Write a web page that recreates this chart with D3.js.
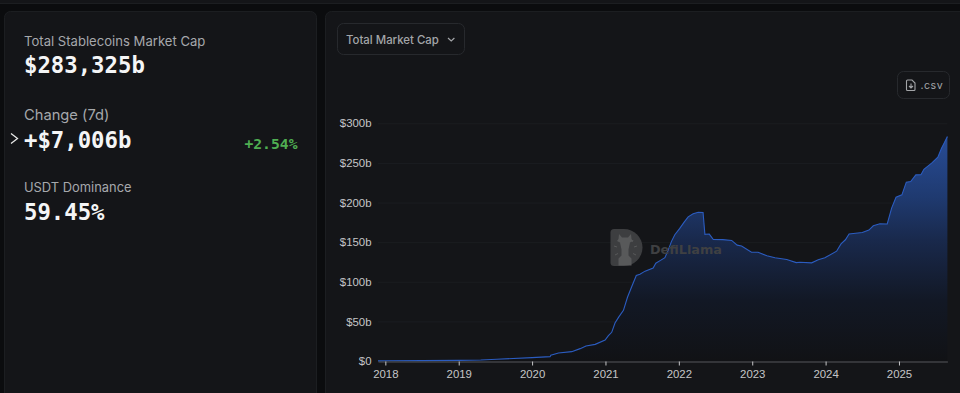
<!DOCTYPE html>
<html>
<head>
<meta charset="utf-8">
<title>Total Stablecoins Market Cap</title>
<script src="https://cdn.jsdelivr.net/npm/d3@7"></script>
<style>
  html, body { margin: 0; padding: 0; background: #0b0c0e; overflow: hidden; }
  svg { display: block; }
  .label { font-family: Inter, sans-serif; fill: #a6a8ac; }
  .big { font-family: "DejaVu Sans Mono", monospace; font-weight: 700; font-size: 22.3px; fill: #f4f5f6; }
  .axis text { font-family: "Liberation Sans", sans-serif; font-size: 11.4px; fill: #c4c5c7; }
</style>
</head>
<body>
<div id="chart"></div>
<script>
// decimal years
const years = [2017.9, 2018, 2018.5, 2019, 2019.3, 2019.52, 2020, 2020.245, 2020.255, 2020.36, 2020.54, 2020.655, 2020.735, 2020.86, 2020.995,
  2021.04, 2021.085, 2021.13, 2021.18, 2021.245, 2021.3, 2021.36, 2021.42, 2021.47, 2021.54, 2021.65, 2021.686, 2021.75, 2021.81, 2021.855, 2021.9, 2021.945,
  2022.01, 2022.07, 2022.127, 2022.195, 2022.264, 2022.33, 2022.355, 2022.415, 2022.47, 2022.6, 2022.72, 2022.795, 2022.855, 2022.99,
  2023.08, 2023.2, 2023.31, 2023.47, 2023.6, 2023.65, 2023.81, 2023.9, 2023.99,
  2024.15, 2024.21, 2024.27, 2024.32, 2024.5, 2024.59, 2024.65, 2024.74, 2024.84, 2024.9, 2024.96,
  2025.04, 2025.1, 2025.16, 2025.23, 2025.3, 2025.34, 2025.445, 2025.53, 2025.58, 2025.62, 2025.66];
const marketCap = [0.2, 0.3, 0.5, 0.8, 1.3, 2.2, 4.2, 5.5, 7.2, 10, 11.8, 15.6, 19, 21, 26.4,
  32, 36.2, 48, 55.4, 64, 80.4, 94.4, 108, 109.4, 113.4, 117.4, 123.4, 127, 130.4, 140, 151, 159.4,
  167, 175, 182, 185.8, 187.8, 187.4, 159.8, 160.2, 153.3, 153.2, 152.2, 146.2, 145.2, 137.3,
  137.2, 132.8, 130.3, 128, 124.2, 124.7, 123.9, 127.7, 130.2,
  138.6, 147.8, 153, 160.2, 162.2, 165.2, 170.6, 173.2, 173, 192.9, 206.7,
  209.7, 225.7, 226.5, 234.9, 235.2, 242, 249.7, 257.2, 268.6, 275.7, 283.3];
const yearTicks = [2018, 2019, 2020, 2021, 2022, 2023, 2024, 2025];
const capTicks = [0, 50, 100, 150, 200, 250, 300];

const statLabels = ["Total Stablecoins Market Cap", "Change (7d)", "USDT Dominance"];
const statValues = ["$283,325b", "+$7,006b", "59.45%"];

const width = 960, height = 393;
const margin = {top: 123.3, right: 12.6, bottom: 32, left: 378};

const labelY = [45.5, 119.5, 192.3];
const labelSize = [13.1, 14.7, 12.9];
const valueY = [73, 148, 219.5];

const svg = d3.select("#chart").append("svg")
  .attr("width", width)
  .attr("height", height);

// panels
const panels = svg.append("g").attr("fill", "#141518").attr("stroke", "#1c1e21");
panels.append("rect").attr("x", -10).attr("y", -20).attr("width", 980).attr("height", 23.5).attr("rx", 6);
panels.append("rect").attr("x", 4.5).attr("y", 11.5).attr("width", 312).attr("height", 400).attr("rx", 6);
panels.append("rect").attr("x", 325.5).attr("y", 11.5).attr("width", 650).attr("height", 400).attr("rx", 6);

// left side stats
const statG = svg.append("g");
statLabels.forEach((label, i) => {
  statG.append("text").attr("class", "label").attr("x", 24).attr("y", labelY[i])
    .attr("font-size", labelSize[i]).text(label);
  statG.append("text").attr("class", "big").attr("x", 24).attr("y", valueY[i]).text(statValues[i]);
});
statG.append("text")
  .attr("x", 297.5).attr("y", 149)
  .attr("text-anchor", "end")
  .attr("font-family", "DejaVu Sans Mono, monospace")
  .attr("font-weight", 700)
  .attr("font-size", 14.7)
  .attr("fill", "#4fae52")
  .text("+2.54%");
statG.append("path")
  .attr("d", "M11 133.5L17.5 138.5L11 143.5")
  .attr("fill", "none")
  .attr("stroke", "#e8e8e8")
  .attr("stroke-width", 1.3);

// buttons
const btn = svg.append("g");
btn.append("rect").attr("x", 337.5).attr("y", 23.5).attr("width", 127).attr("height", 31).attr("rx", 6)
  .attr("fill", "none").attr("stroke", "#27292d");
btn.append("text").attr("x", 346).attr("y", 43.5)
  .attr("font-family", "Inter, sans-serif").attr("font-weight", 500).attr("font-size", 11.4).attr("fill", "#a3a5a8")
  .text("Total Market Cap");
btn.append("path").attr("d", "M448 38L451.2 41L454.4 38").attr("fill", "none").attr("stroke", "#a3a5a8").attr("stroke-width", 1.2);

btn.append("rect").attr("x", 897.5).attr("y", 71.5).attr("width", 52).attr("height", 27).attr("rx", 6)
  .attr("fill", "none").attr("stroke", "#27292d");
btn.append("path").attr("d", "M907.5 80h4.5l3 3v6.5a1 1 0 0 1-1 1h-6.5a1 1 0 0 1-1-1v-8.5a1 1 0 0 1 1-1z M911 83.5v4.5 M909 86l2 2 2-2")
  .attr("fill", "none").attr("stroke", "#a3a5a8").attr("stroke-width", 1.1);
btn.append("text").attr("x", 920.5).attr("y", 89)
  .attr("font-family", "Inter, sans-serif").attr("font-size", 10.6).attr("letter-spacing", 0.5).attr("fill", "#a3a5a8")
  .text(".csv");

// chart
const x = d3.scaleLinear()
  .domain([d3.min(years), d3.max(years)])
  .range([margin.left, width - margin.right]);
const y = d3.scaleLinear()
  .domain([0, 300])
  .range([height - margin.bottom, margin.top]);

const points = years.map((yr, i) => ({yr, cap: marketCap[i]}));

const defs = svg.append("defs");
const grad = defs.append("linearGradient")
  .attr("id", "capFill")
  .attr("gradientUnits", "userSpaceOnUse")
  .attr("x1", 0).attr("x2", 0)
  .attr("y1", y(d3.max(marketCap))).attr("y2", y(0));
grad.append("stop").attr("offset", 0).attr("stop-color", "#284c96");
grad.append("stop").attr("offset", 0.27).attr("stop-color", "#1f3a70");
grad.append("stop").attr("offset", 0.46).attr("stop-color", "#19294c");
grad.append("stop").attr("offset", 0.73).attr("stop-color", "#121825");
grad.append("stop").attr("offset", 1).attr("stop-color", "#111215");

// grid
svg.append("g")
  .selectAll("line")
  .data(capTicks.filter(d => d > 0))
  .join("line")
  .attr("x1", margin.left).attr("x2", width - margin.right)
  .attr("y1", d => y(d) + 0.5).attr("y2", d => y(d) + 0.5)
  .attr("stroke", "#1b1d20");

svg.append("path")
  .datum(points)
  .attr("fill", "url(#capFill)")
  .attr("d", d3.area().x(d => x(d.yr)).y0(y(0)).y1(d => y(d.cap)));
svg.append("path")
  .datum(points)
  .attr("fill", "none")
  .attr("stroke", "#2b5cc0")
  .attr("stroke-width", 1.1)
  .attr("d", d3.line().x(d => x(d.yr)).y(d => y(d.cap)));

// watermark goes over the area
const mark = svg.append("g");
mark.append("path")
  .attr("d", "M614 229h10a18.5 18.5 0 0 1 18.5 18.5v0a18.5 18.5 0 0 1-18.5 18.5h-10a3.5 3.5 0 0 1-3.5-3.5v-30a3.5 3.5 0 0 1 3.5-3.5z")
  .attr("fill", "#3d3e40");
mark.append("path")
  .attr("d", "M619 234l3 3.5h6l3-3.5l.5 5l1.5 2l-3 1.5l-1.5 7v6l3 3v7h-13v-7l3-3v-6l-1.5-7l-3-1.5l1.5-2z")
  .attr("fill", "#58595a");
mark.append("path")
  .attr("d", "M614 246l3 1M615 255l3-1.5M637 246l-3 1M636 255l-3-1.5M619 239l1 2M633 240l-1 2")
  .attr("stroke", "#58595a").attr("stroke-width", 1);
mark.append("text").attr("x", 650).attr("y", 253.5)
  .attr("font-family", "DejaVu Sans, sans-serif").attr("font-weight", 700).attr("font-size", 12.8)
  .attr("fill", "#3f4042")
  .text("DefiLlama");

// axes
const xAxis = svg.append("g")
  .attr("class", "axis")
  .attr("transform", `translate(0,${y(0) + 0.5})`)
  .call(d3.axisBottom(x).tickValues(yearTicks).tickFormat(d3.format("d")).tickSize(4).tickSizeOuter(0).tickPadding(4));
xAxis.select(".domain").attr("stroke", "#55575a");
xAxis.selectAll(".tick line").attr("stroke", "#c4c5c7");

const yAxis = svg.append("g")
  .attr("class", "axis")
  .attr("transform", `translate(${margin.left - 6.5},0)`)
  .call(d3.axisLeft(y).tickValues(capTicks).tickFormat(d => `$${d}${d ? "b" : ""}`).tickSize(0).tickPadding(0));
yAxis.select(".domain").remove();
</script>
</body>
</html>
